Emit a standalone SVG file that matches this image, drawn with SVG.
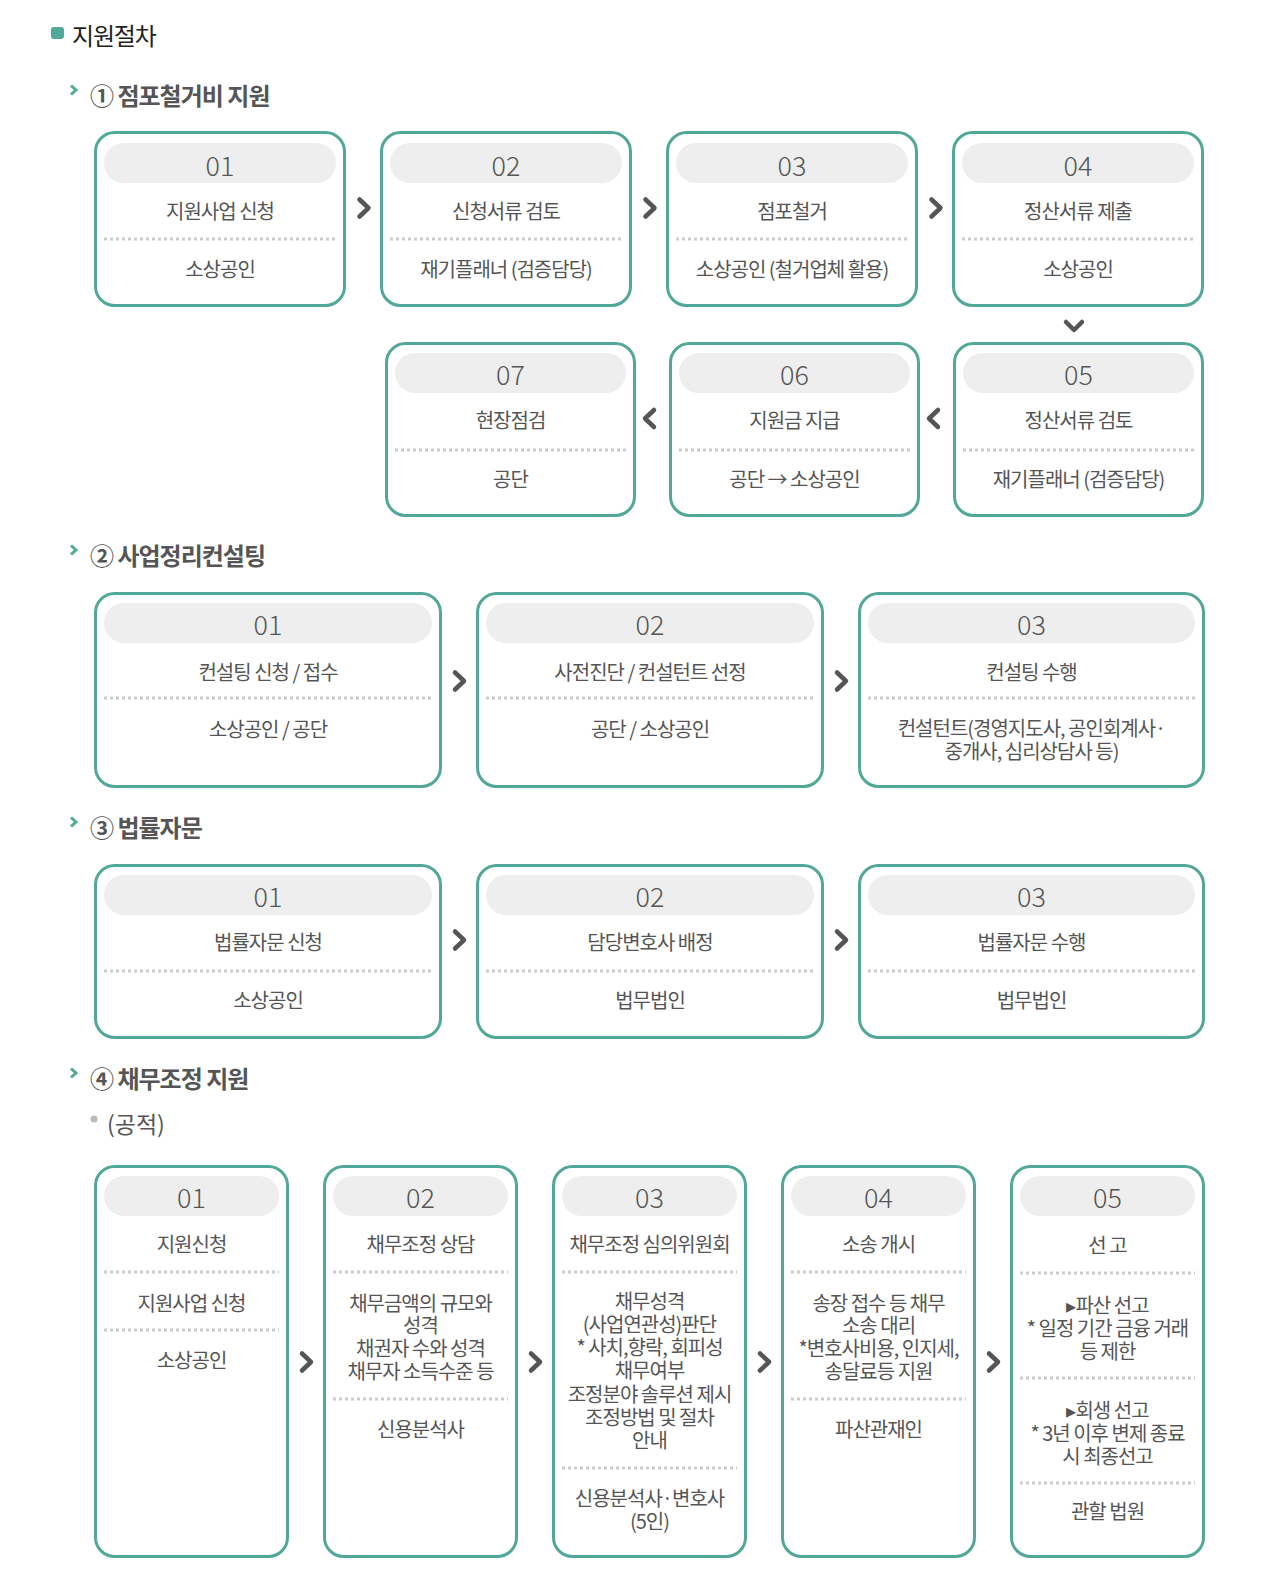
<svg xmlns="http://www.w3.org/2000/svg" width="1272" height="1582" viewBox="0 0 1272 1582">
<style>
text{font-family:"Noto Sans CJK KR","Noto Sans",sans-serif}
.box{fill:#fff;stroke:#52a898;stroke-width:3}
.pill{fill:#eeeeee}
.num{font-size:27px;fill:#555;text-anchor:middle;dominant-baseline:central;font-weight:300}
.t{font-size:20px;fill:#555;text-anchor:middle;letter-spacing:-1px;dominant-baseline:central}
.dot{stroke:#cccccc;stroke-width:3;stroke-dasharray:3 3}
.arr{fill:none;stroke:#555;stroke-width:4.5;stroke-linecap:round;stroke-linejoin:round}
.hd{font-size:24px;font-weight:700;fill:#555;letter-spacing:-1px;dominant-baseline:central}
.chev{fill:none;stroke:#52a898;stroke-width:3}
</style>
<rect width="1272" height="1582" fill="#fff"/>
<g id="title">
<rect x="51" y="27" width="13" height="12" rx="3" fill="#52a898"/>
<text x="72" y="34" style="font-size:24px;fill:#222;letter-spacing:-1.2px;dominant-baseline:central">지원절차</text>
</g>
<g id="sec1-header">
<polyline class="chev" points="71,85.5 76,90 71,94.5"/>
<text class="hd" x="90" y="94">① 점포철거비 지원</text>
</g>
<g id="s1-01">
<rect class="box" x="95.5" y="132.5" width="249" height="173" rx="19"/>
<rect class="pill" x="104" y="143" width="232" height="40" rx="20"/>
<text class="num" x="220" y="164">01</text>
<text class="t" x="220" y="210">지원사업 신청</text>
<line class="dot" x1="104" y1="239" x2="336" y2="239"/>
<text class="t" x="220" y="268">소상공인</text>
</g>
<g id="s1-02">
<rect class="box" x="381.5" y="132.5" width="249" height="173" rx="19"/>
<rect class="pill" x="390" y="143" width="232" height="40" rx="20"/>
<text class="num" x="506" y="164">02</text>
<text class="t" x="506" y="210">신청서류 검토</text>
<line class="dot" x1="390" y1="239" x2="622" y2="239"/>
<text class="t" x="506" y="268">재기플래너 (검증담당)</text>
</g>
<g id="s1-03">
<rect class="box" x="667.5" y="132.5" width="249" height="173" rx="19"/>
<rect class="pill" x="676" y="143" width="232" height="40" rx="20"/>
<text class="num" x="792" y="164">03</text>
<text class="t" x="792" y="210">점포철거</text>
<line class="dot" x1="676" y1="239" x2="908" y2="239"/>
<text class="t" x="792" y="268">소상공인 (철거업체 활용)</text>
</g>
<g id="s1-04">
<rect class="box" x="953.5" y="132.5" width="249" height="173" rx="19"/>
<rect class="pill" x="962" y="143" width="232" height="40" rx="20"/>
<text class="num" x="1078" y="164">04</text>
<text class="t" x="1078" y="210">정산서류 제출</text>
<line class="dot" x1="962" y1="239" x2="1194" y2="239"/>
<text class="t" x="1078" y="268">소상공인</text>
</g>
<g id="s1-07">
<rect class="box" x="386.5" y="343.5" width="248" height="172" rx="19"/>
<rect class="pill" x="395" y="353" width="231" height="40" rx="20"/>
<text class="num" x="510.5" y="373">07</text>
<text class="t" x="510.5" y="419">현장점검</text>
<line class="dot" x1="395" y1="450" x2="626" y2="450"/>
<text class="t" x="510.5" y="478">공단</text>
</g>
<g id="s1-06">
<rect class="box" x="670.5" y="343.5" width="248" height="172" rx="19"/>
<rect class="pill" x="679" y="353" width="231" height="40" rx="20"/>
<text class="num" x="794.5" y="373">06</text>
<text class="t" x="794.5" y="419">지원금 지급</text>
<line class="dot" x1="679" y1="450" x2="910" y2="450"/>
<text class="t" x="794.5" y="478">공단 → 소상공인</text>
</g>
<g id="s1-05">
<rect class="box" x="954.5" y="343.5" width="248" height="172" rx="19"/>
<rect class="pill" x="963" y="353" width="231" height="40" rx="20"/>
<text class="num" x="1078.5" y="373">05</text>
<text class="t" x="1078.5" y="419">정산서류 검토</text>
<line class="dot" x1="963" y1="450" x2="1194" y2="450"/>
<text class="t" x="1078.5" y="478">재기플래너 (검증담당)</text>
</g>
<g id="sec2-header">
<polyline class="chev" points="71,545.5 76,550 71,554.5"/>
<text class="hd" x="90" y="554">② 사업정리컨설팅</text>
</g>
<g id="s2-01">
<rect class="box" x="95.5" y="593.5" width="345" height="193" rx="19"/>
<rect class="pill" x="104" y="603" width="328" height="40" rx="20"/>
<text class="num" x="268" y="623">01</text>
<text class="t" x="268" y="671">컨설팅 신청 / 접수</text>
<line class="dot" x1="104" y1="698" x2="432" y2="698"/>
<text class="t" x="268" y="728">소상공인 / 공단</text>
</g>
<g id="s2-02">
<rect class="box" x="477.5" y="593.5" width="345" height="193" rx="19"/>
<rect class="pill" x="486" y="603" width="328" height="40" rx="20"/>
<text class="num" x="650" y="623">02</text>
<text class="t" x="650" y="671">사전진단 / 컨설턴트 선정</text>
<line class="dot" x1="486" y1="698" x2="814" y2="698"/>
<text class="t" x="650" y="728">공단 / 소상공인</text>
</g>
<g id="s2-03">
<rect class="box" x="859.5" y="593.5" width="344" height="193" rx="19"/>
<rect class="pill" x="868" y="603" width="327" height="40" rx="20"/>
<text class="num" x="1031.5" y="623">03</text>
<text class="t" x="1031.5" y="671">컨설팅 수행</text>
<line class="dot" x1="868" y1="698" x2="1195" y2="698"/>
<text class="t" x="1031.5"><tspan x="1031.5" y="727">컨설턴트(경영지도사, 공인회계사·</tspan><tspan x="1031.5" y="750">중개사, 심리상담사 등)</tspan></text>
</g>
<g id="sec3-header">
<polyline class="chev" points="71,817.5 76,822 71,826.5"/>
<text class="hd" x="90" y="826">③ 법률자문</text>
</g>
<g id="s3-01">
<rect class="box" x="95.5" y="865.5" width="345" height="172" rx="19"/>
<rect class="pill" x="104" y="875" width="328" height="40" rx="20"/>
<text class="num" x="268" y="895">01</text>
<text class="t" x="268" y="941">법률자문 신청</text>
<line class="dot" x1="104" y1="971" x2="432" y2="971"/>
<text class="t" x="268" y="999">소상공인</text>
</g>
<g id="s3-02">
<rect class="box" x="477.5" y="865.5" width="345" height="172" rx="19"/>
<rect class="pill" x="486" y="875" width="328" height="40" rx="20"/>
<text class="num" x="650" y="895">02</text>
<text class="t" x="650" y="941">담당변호사 배정</text>
<line class="dot" x1="486" y1="971" x2="814" y2="971"/>
<text class="t" x="650" y="999">법무법인</text>
</g>
<g id="s3-03">
<rect class="box" x="859.5" y="865.5" width="344" height="172" rx="19"/>
<rect class="pill" x="868" y="875" width="327" height="40" rx="20"/>
<text class="num" x="1031.5" y="895">03</text>
<text class="t" x="1031.5" y="941">법률자문 수행</text>
<line class="dot" x1="868" y1="971" x2="1195" y2="971"/>
<text class="t" x="1031.5" y="999">법무법인</text>
</g>
<g id="sec4-header">
<polyline class="chev" points="71,1068.5 76,1073 71,1077.5"/>
<text class="hd" x="90" y="1077">④ 채무조정 지원</text>
<circle cx="94" cy="1119" r="3.5" fill="#bbbbbb"/>
<text x="107" y="1123" style="font-size:23px;fill:#555;dominant-baseline:central">(공적)</text>
</g>
<g id="s4-01">
<rect class="box" x="95.5" y="1166.5" width="192" height="390" rx="19"/>
<rect class="pill" x="104" y="1176" width="175" height="40" rx="20"/>
<text class="num" x="191.5" y="1196">01</text>
<text class="t" x="191.5" y="1243">지원신청</text>
<line class="dot" x1="104" y1="1272" x2="279" y2="1272"/>
<text class="t" x="191.5" y="1302">지원사업 신청</text>
<line class="dot" x1="104" y1="1330" x2="279" y2="1330"/>
<text class="t" x="191.5" y="1359">소상공인</text>
</g>
<g id="s4-02">
<rect class="box" x="324.5" y="1166.5" width="192" height="390" rx="19"/>
<rect class="pill" x="333" y="1176" width="175" height="40" rx="20"/>
<text class="num" x="420.5" y="1196">02</text>
<text class="t" x="420.5" y="1243">채무조정 상담</text>
<line class="dot" x1="333" y1="1272" x2="508" y2="1272"/>
<text class="t" x="420.5"><tspan x="420.5" y="1302">채무금액의 규모와</tspan><tspan x="420.5" y="1324">성격</tspan><tspan x="420.5" y="1347">채권자 수와 성격</tspan><tspan x="420.5" y="1370">채무자 소득수준 등</tspan></text>
<line class="dot" x1="333" y1="1399" x2="508" y2="1399"/>
<text class="t" x="420.5" y="1428">신용분석사</text>
</g>
<g id="s4-03">
<rect class="box" x="553.5" y="1166.5" width="192" height="390" rx="19"/>
<rect class="pill" x="562" y="1176" width="175" height="40" rx="20"/>
<text class="num" x="649.5" y="1196">03</text>
<text class="t" x="649.5" y="1243">채무조정 심의위원회</text>
<line class="dot" x1="562" y1="1272" x2="737" y2="1272"/>
<text class="t" x="649.5"><tspan x="649.5" y="1300">채무성격</tspan><tspan x="649.5" y="1323">(사업연관성)판단</tspan><tspan x="649.5" y="1346">* 사치,향락, 회피성</tspan><tspan x="649.5" y="1369">채무여부</tspan><tspan x="649.5" y="1393">조정분야 솔루션 제시</tspan><tspan x="649.5" y="1416">조정방법 및 절차</tspan><tspan x="649.5" y="1439">안내</tspan></text>
<line class="dot" x1="562" y1="1468" x2="737" y2="1468"/>
<text class="t" x="649.5"><tspan x="649.5" y="1497">신용분석사·변호사</tspan><tspan x="649.5" y="1520">(5인)</tspan></text>
</g>
<g id="s4-04">
<rect class="box" x="782.5" y="1166.5" width="192" height="390" rx="19"/>
<rect class="pill" x="791" y="1176" width="175" height="40" rx="20"/>
<text class="num" x="878.5" y="1196">04</text>
<text class="t" x="878.5" y="1243">소송 개시</text>
<line class="dot" x1="791" y1="1272" x2="966" y2="1272"/>
<text class="t" x="878.5"><tspan x="878.5" y="1302">송장 접수 등 채무</tspan><tspan x="878.5" y="1324">소송 대리</tspan><tspan x="878.5" y="1347">*변호사비용, 인지세,</tspan><tspan x="878.5" y="1370">송달료등 지원</tspan></text>
<line class="dot" x1="791" y1="1399" x2="966" y2="1399"/>
<text class="t" x="878.5" y="1428">파산관재인</text>
</g>
<g id="s4-05">
<rect class="box" x="1011.5" y="1166.5" width="192" height="390" rx="19"/>
<rect class="pill" x="1020" y="1176" width="175" height="40" rx="20"/>
<text class="num" x="1107.5" y="1196">05</text>
<text class="t" x="1107.5" y="1244">선 고</text>
<line class="dot" x1="1020" y1="1273" x2="1195" y2="1273"/>
<text class="t" x="1107.5"><tspan x="1107.5" y="1304">▸파산 선고</tspan><tspan x="1107.5" y="1327">* 일정 기간 금융 거래</tspan><tspan x="1107.5" y="1350">등 제한</tspan></text>
<line class="dot" x1="1020" y1="1378" x2="1195" y2="1378"/>
<text class="t" x="1107.5"><tspan x="1107.5" y="1409">▸회생 선고</tspan><tspan x="1107.5" y="1432">* 3년 이후 변제 종료</tspan><tspan x="1107.5" y="1455">시 최종선고</tspan></text>
<line class="dot" x1="1020" y1="1483" x2="1195" y2="1483"/>
<text class="t" x="1107.5" y="1510">관할 법원</text>
</g>
<g id="connectors">
<polyline class="arr" points="359.5,199.5 368.5,208 359.5,216.5"/>
<polyline class="arr" points="645.5,199.5 654.5,208 645.5,216.5"/>
<polyline class="arr" points="931.5,199.5 940.5,208 931.5,216.5"/>
<polyline class="arr" points="1066,322 1074,330 1082,322"/>
<polyline class="arr" points="938,410 929,418.5 938,427"/>
<polyline class="arr" points="654,410 645,418.5 654,427"/>
<polyline class="arr" points="455,672.5 464,681 455,689.5"/>
<polyline class="arr" points="837,672.5 846,681 837,689.5"/>
<polyline class="arr" points="455,931.5 464,940 455,948.5"/>
<polyline class="arr" points="837,931.5 846,940 837,948.5"/>
<polyline class="arr" points="302,1353.5 311,1362 302,1370.5"/>
<polyline class="arr" points="531,1353.5 540,1362 531,1370.5"/>
<polyline class="arr" points="760,1353.5 769,1362 760,1370.5"/>
<polyline class="arr" points="989,1353.5 998,1362 989,1370.5"/>
</g>
</svg>
